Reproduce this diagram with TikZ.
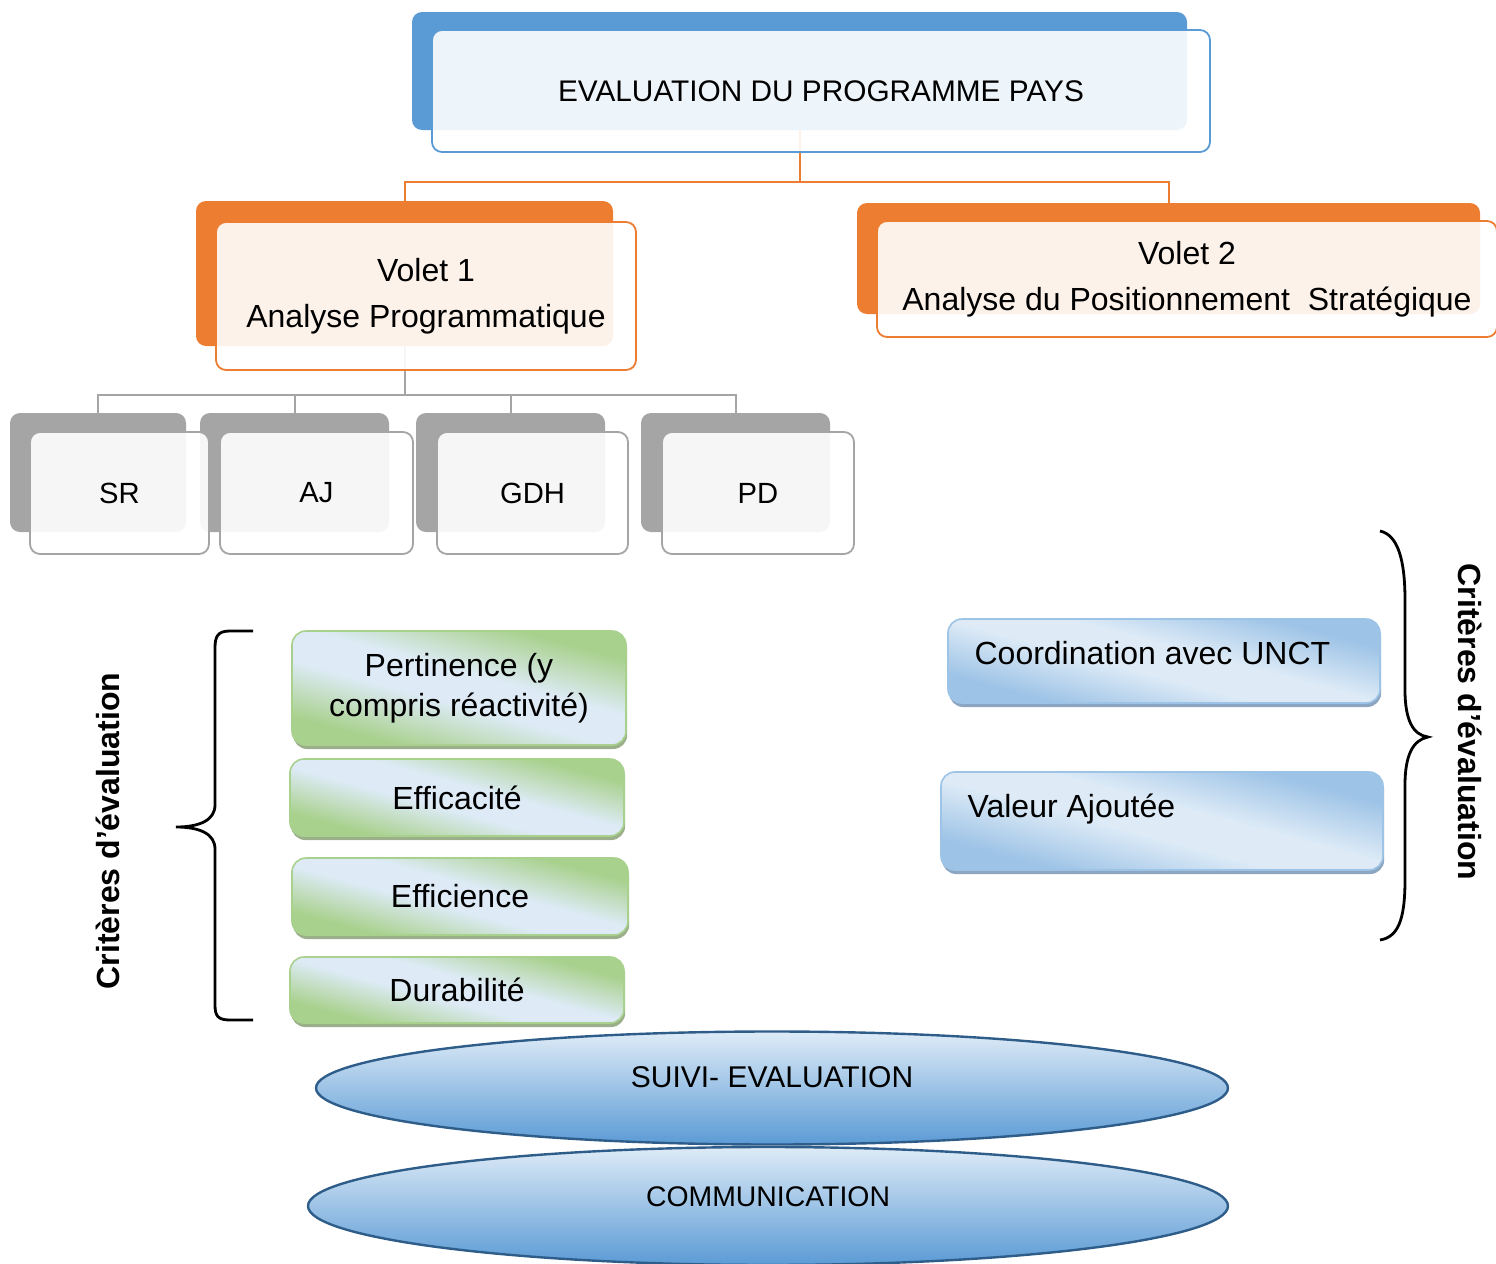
\documentclass[tikz,border=0pt]{standalone}
\usepackage{fontspec}
\setmainfont{Liberation Sans}
\usetikzlibrary{shapes.geometric,shadows}

\definecolor{bleuh}{HTML}{5B9BD5}
\definecolor{orangeh}{HTML}{ED7D31}
\definecolor{grish}{HTML}{A5A5A5}
\definecolor{vertc}{HTML}{A9D18E}
\definecolor{bleuc}{HTML}{DEEBF7}
\definecolor{bleum}{HTML}{9DC3E6}
\definecolor{bleuf}{HTML}{2F5D8A}
\definecolor{ombrev}{HTML}{9AAF8A}
\definecolor{ombreb}{HTML}{8CA6C2}
\pgfdeclarehorizontalshading{bandevert}{100bp}{color(0bp)=(vertc); color(28bp)=(vertc); color(45bp)=(bleuc); color(55bp)=(bleuc); color(72bp)=(vertc); color(100bp)=(vertc)}
\pgfdeclarehorizontalshading{bandebleu}{100bp}{color(0bp)=(bleum); color(28bp)=(bleum); color(45bp)=(bleuc); color(55bp)=(bleuc); color(72bp)=(bleum); color(100bp)=(bleum)}

\begin{document}
\begin{tikzpicture}[x=0.5pt, y=-0.5pt,
        fond/.style={rounded corners=5pt, inner sep=0pt},
        face/.style={draw, line width=0.9pt, rounded corners=5pt, fill=white, fill opacity=0.9, text opacity=1, align=center, inner sep=0pt},
        lien/.style={line width=1pt},
        critere/.style={draw=vertc, line width=0.8pt, rounded corners=7pt, shading=bandevert, shading angle=75, drop shadow={shadow xshift=0.6pt, shadow yshift=-2pt, fill=ombrev, opacity=1}, align=center, minimum width=167pt, font=\fontsize{16}{20}\selectfont},
        strat/.style={draw=bleum, line width=0.8pt, rounded corners=7pt, shading=bandebleu, shading angle=75, drop shadow={shadow xshift=0.6pt, shadow yshift=-2pt, fill=ombreb, opacity=1}},
        texte/.style={font=\fontsize{16}{20}\selectfont, inner sep=0pt},
        disque/.style={ellipse, draw=bleuf, line width=1.2pt, top color=bleuc, bottom color=bleuh, inner sep=0pt},
        titre/.style={font=\bfseries\fontsize{16}{20}\selectfont}
    ]
    \useasboundingbox (0,0) rectangle (1496,1264);

    % Fonds colores
    \node[fond, fill=bleuh, minimum width=387.5pt, minimum height=59pt] (evalfond) at (799.5,71) {};
    \node[fond, fill=orangeh, minimum width=208.5pt, minimum height=72.5pt] (v1fond) at (404.5,273.5) {};
    \node[fond, fill=orangeh, minimum width=311.5pt, minimum height=55.5pt] (v2fond) at (1168.5,258.5) {};
    \node[fond, fill=grish, minimum width=88pt, minimum height=59.5pt] (srfond) at (98,472.5) {};
    \node[fond, fill=grish, minimum width=94.5pt, minimum height=59.5pt] (ajfond) at (294.5,472.5) {};
    \node[fond, fill=grish, minimum width=94.5pt, minimum height=59.5pt] (gdhfond) at (510.5,472.5) {};
    \node[fond, fill=grish, minimum width=94.5pt, minimum height=59.5pt] (pdfond) at (735.5,472.5) {};

    % Liens
    \coordinate (bras1) at (799.5,182);
    \coordinate (bras2) at (404.5,395);
    \draw[lien, orangeh] (evalfond.south) -- (bras1) -| (v1fond.north);
    \draw[lien, orangeh] (bras1) -| (v2fond.north);
    \draw[lien, grish] (v1fond.south) -- (bras2) -| (srfond.north);
    \draw[lien, grish] (bras2) -| (ajfond.north);
    \draw[lien, grish] (bras2) -| (gdhfond.north);
    \draw[lien, grish] (bras2) -| (pdfond.north);

    % Cadres
    \node[face, draw=bleuh, minimum width=389pt, minimum height=61pt, font=\fontsize{14.9}{17}\selectfont] (eval) at (821,91) {EVALUATION DU PROGRAMME PAYS};
    \node[face, draw=orangeh, minimum width=210pt, minimum height=74pt, font=\fontsize{16}{23}\selectfont] (v1) at (426,296) {Volet 1\\Analyse Programmatique};
    \node[face, draw=orangeh, minimum width=310pt, minimum height=58pt, font=\fontsize{16}{23}\selectfont] (v2) at (1187,279) {Volet 2\\Analyse du Positionnement~~Stratégique};
    \node[face, draw=grish, minimum width=89.5pt, minimum height=61pt, font=\fontsize{14.6}{17}\selectfont] (sr) at (119.5,493) {SR};
    \node[face, draw=grish, minimum width=96.5pt, minimum height=61pt, font=\fontsize{14.6}{17}\selectfont] (aj) at (316.5,493) {AJ};
    \node[face, draw=grish, minimum width=95.5pt, minimum height=61pt, font=\fontsize{14.6}{17}\selectfont] (gdh) at (532.5,493) {GDH};
    \node[face, draw=grish, minimum width=96pt, minimum height=61pt, font=\fontsize{14.6}{17}\selectfont] (pd) at (758,493) {PD};

    % Criteres volet 1
    \node[critere, minimum height=57pt] (pert) at (459,688) {Pertinence (y\\compris réactivité)};
    \node[critere, minimum height=38.5pt] (effa) at (457,797.5) {Efficacité};
    \node[critere, minimum width=168pt, minimum height=38.5pt] (effi) at (460,896.5) {Efficience};
    \node[critere, minimum height=33pt] (dura) at (457,990) {Durabilité};
    \draw[line width=1.4pt] (253,631) -- (230,631) .. controls (218,631) and (215,636) .. (215,648) -- (215,805) .. controls (215,820) and (200,827) .. (176,827) .. controls (200,827) and (215,834) .. (215,849) -- (215,1005) .. controls (215,1016) and (218,1020) .. (230,1020) -- (253,1020);
    \node[titre, rotate=90] (crit1) at (108,831) {Critères d’évaluation};

    % Criteres volet 2
    \node[strat, minimum width=216pt, minimum height=42pt] (coord) at (1164,661) {};
    \node[texte, anchor=west, xshift=13.5pt, yshift=4pt] (coordtxt) at (coord.west) {Coordination avec UNCT};
    \node[strat, minimum width=221pt, minimum height=49pt] (val) at (1162,821) {};
    \node[texte, anchor=west, xshift=13.5pt, yshift=6pt] (valtxt) at (val.west) {Valeur Ajoutée};
    \draw[line width=1.4pt] (1380,531) .. controls (1398,535) and (1405,560) .. (1405,600) -- (1405,690) .. controls (1405,720) and (1413,735) .. (1428,737) .. controls (1413,740) and (1405,755) .. (1405,785) -- (1405,880) .. controls (1405,920) and (1398,937) .. (1380,940);
    \node[titre, rotate=-90] (crit2) at (1470,722) {Critères d’évaluation};

    % Socle
    \node[disque, minimum width=456pt, minimum height=56.5pt] (suivi) at (772,1088) {};
    \node[font=\fontsize{15}{17}\selectfont] (suivitxt) at (772,1077) {SUIVI- EVALUATION};
    \node[disque, minimum width=460pt, minimum height=59pt] (comm) at (768,1206) {};
    \node[font=\fontsize{14.2}{16}\selectfont] (commtxt) at (768,1197) {COMMUNICATION};

\end{tikzpicture}
\end{document}
